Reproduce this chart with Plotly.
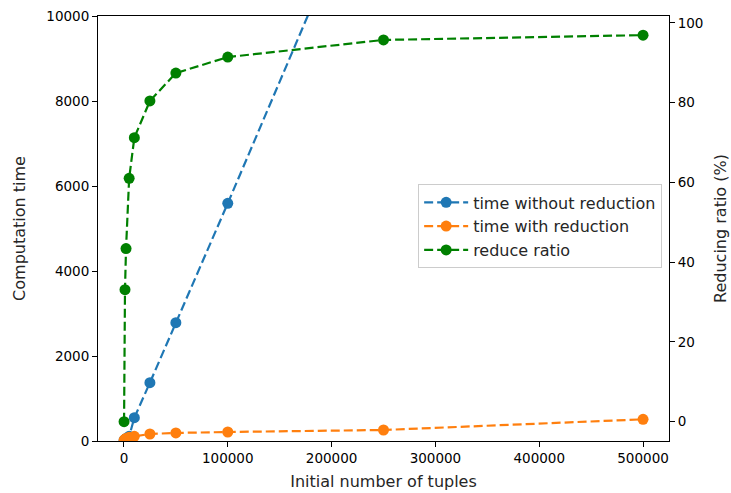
import plotly.graph_objects as go

tuples = [100, 1000, 2000, 5000, 10000, 25000, 50000, 100000, 250000, 500000]
time_without = [12, 35, 60, 110, 548, 1372, 2784, 5593, 14180, 28400]
time_with = [15, 40, 60, 90, 110, 165, 190, 212, 259, 510]
reduce_ratio = [0, 33.1, 43.4, 61.0, 71.2, 80.4, 87.4, 91.4, 95.7, 96.9]

x_ticks = [0, 100000, 200000, 300000, 400000, 500000]
y_ticks = [0, 2000, 4000, 6000, 8000, 10000]
y2_ticks = [0, 20, 40, 60, 80, 100]

dash = "9px,4px"
fig = go.Figure()
fig.add_trace(go.Scatter(x=tuples, y=time_without, mode="lines+markers", name="time without reduction",
                         line=dict(color="#1f77b4", width=2.2, dash=dash), marker=dict(size=11, color="#1f77b4")))
fig.add_trace(go.Scatter(x=tuples, y=time_with, mode="lines+markers", name="time with reduction",
                         line=dict(color="#ff7f0e", width=2.2, dash=dash), marker=dict(size=11, color="#ff7f0e")))
fig.add_trace(go.Scatter(x=tuples, y=reduce_ratio, mode="lines+markers", name="reduce ratio", yaxis="y2",
                         line=dict(color="green", width=2.2, dash=dash), marker=dict(size=11, color="green")))

font = dict(family="DejaVu Sans", size=13.5, color="black")
label_font = dict(family="DejaVu Sans", size=16, color="#262626")
axis_common = dict(showgrid=False, zeroline=False, showline=True, linecolor="black", linewidth=1,
                   ticks="outside", ticklen=5, tickcolor="black", tickfont=font, automargin=False)

fig.update_layout(
    width=731, height=493,
    margin=dict(l=98, r=62, t=16, b=52),
    paper_bgcolor="white", plot_bgcolor="white",
    font=font,
    showlegend=True,
    legend=dict(x=0.988, y=0.505, xanchor="right", yanchor="middle", bgcolor="rgba(255,255,255,0.8)",
                bordercolor="#cccccc", borderwidth=1, font=label_font, tracegroupgap=0, itemwidth=44),
    xaxis=dict(range=[-25000, 525000], tickvals=x_ticks, ticktext=[str(v) for v in x_ticks],
               mirror=True, title=dict(text="Initial number of tuples", font=label_font, standoff=10), **axis_common),
    yaxis=dict(range=[0, 10000], tickvals=y_ticks, ticktext=[str(v) for v in y_ticks],
               title=dict(text="Computation time", font=label_font, standoff=16), **axis_common),
    yaxis2=dict(range=[-4.84, 101.7], tickvals=y2_ticks, ticktext=[str(v) for v in y2_ticks],
                overlaying="y", side="right", anchor="x",
                title=dict(text="Reducing ratio (%)", font=label_font, standoff=12), **axis_common),
)
fig.write_html("out.html", config={"displayModeBar": False},
               post_script="document.body.style.margin='0';document.body.style.overflow='hidden';")
